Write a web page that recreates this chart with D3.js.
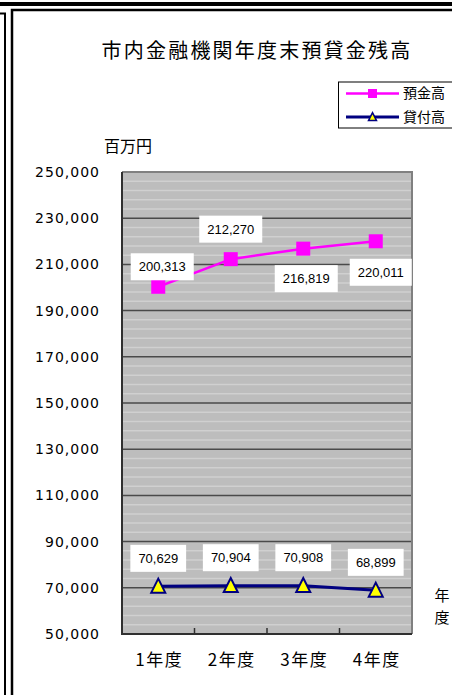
<!DOCTYPE html>
<html lang="ja">
<head>
<meta charset="UTF-8">
<title>市内金融機関年度末預貸金残高</title>
<script src="https://d3js.org/d3.v7.min.js"></script>
<style>
  body { margin: 0; background: #fff; }
  svg { display: block; }
  .jp { font-family: "Noto Sans CJK JP", "Noto Sans", sans-serif; fill: #000; }
  .num { font-family: "Liberation Sans", Arial, sans-serif; fill: #000; }
  .tick { font-family: "DejaVu Sans", sans-serif; fill: #000; }
</style>
</head>
<body>
<svg id="chart" width="452" height="695"></svg>
<script>
// データ
const years = ["1年度", "2年度", "3年度", "4年度"];
const deposits = [200313, 212270, 216819, 220011];   // 預金高
const loans = [70629, 70904, 70908, 68899];          // 貸付高
const yTicks = [50000, 70000, 90000, 110000, 130000, 150000, 170000, 190000, 210000, 230000, 250000];

// ラベルの位置 (点からのずれ)
const depositLabelShift = [[4, -20], [0, -30], [3, 30], [5, 31]];
const loanLabelShift = [[0, -28], [0, -28], [0, -28], [0, -28]];

const svg = d3.select("#chart");
const plot = { left: 122, top: 172, right: 412, bottom: 634 };

// 枠線
svg.append("rect").attr("x", 0).attr("y", 2).attr("width", 452).attr("height", 4).attr("fill", "#000");
svg.append("path").attr("d", "M0,13.5H5V695").attr("fill", "none").attr("stroke", "#000").attr("stroke-width", 2);
svg.append("path").attr("d", "M12,695V10H452").attr("fill", "none").attr("stroke", "#000").attr("stroke-width", 2.5);

// タイトル
svg.append("text").attr("class", "jp")
    .attr("x", 257).attr("y", 58)
    .attr("text-anchor", "middle")
    .attr("font-size", 20).attr("letter-spacing", 2.2)
    .text("市内金融機関年度末預貸金残高");

svg.append("text").attr("class", "jp")
    .attr("x", 104).attr("y", 152)
    .attr("font-size", 16)
    .text("百万円");

// スケール
const x = d3.scaleBand().domain(years).range([plot.left, plot.right]);
const y = d3.scaleLinear().domain([50000, 250000]).range([plot.bottom, plot.top]);

// 背景
svg.append("rect")
    .attr("x", plot.left).attr("y", plot.top)
    .attr("width", plot.right - plot.left).attr("height", plot.bottom - plot.top)
    .attr("fill", "#bdbdbd");

// 補助目盛線
svg.append("g").selectAll("line")
    .data(d3.range(54000, 250000, 4000).filter(v => (v - 50000) % 20000 !== 0))
    .join("line")
    .attr("x1", plot.left).attr("x2", plot.right)
    .attr("y1", d => y(d)).attr("y2", d => y(d))
    .attr("stroke", "#d0d0d0").attr("stroke-width", 1.5);

// 目盛線
svg.append("g").selectAll("line")
    .data(yTicks.slice(1, -1))
    .join("line")
    .attr("x1", plot.left).attr("x2", plot.right)
    .attr("y1", d => y(d)).attr("y2", d => y(d))
    .attr("stroke", "#4a4a4a").attr("stroke-width", 1.5);

// 枠
svg.append("path")
    .attr("d", `M${plot.left},${plot.top}H${plot.right}V${plot.bottom}`)
    .attr("fill", "none").attr("stroke", "#808080").attr("stroke-width", 2);
svg.append("path")
    .attr("d", `M${plot.left},${plot.top}V${plot.bottom}H${plot.right}`)
    .attr("fill", "none").attr("stroke", "#303030").attr("stroke-width", 2);

// x 軸の目盛
svg.append("g").selectAll("line")
    .data(years.slice(1))
    .join("line")
    .attr("x1", d => x(d)).attr("x2", d => x(d))
    .attr("y1", plot.bottom).attr("y2", plot.bottom - 6)
    .attr("stroke", "#303030").attr("stroke-width", 1.5);

// y 軸ラベル
svg.append("g").selectAll("text")
    .data(yTicks)
    .join("text")
    .attr("class", "tick")
    .attr("x", 100).attr("y", d => y(d))
    .attr("dy", "0.36em")
    .attr("text-anchor", "end")
    .attr("font-size", 14).attr("letter-spacing", 1)
    .text(d => d3.format(",")(d));

// x 軸ラベル
svg.append("g").selectAll("text")
    .data(years)
    .join("text")
    .attr("class", "jp")
    .attr("x", d => x(d) + x.bandwidth() / 2 + 1)
    .attr("y", 666)
    .attr("text-anchor", "middle")
    .attr("font-size", 17).attr("letter-spacing", 1.5)
    .text(d => d);

// 軸タイトル「年度」
svg.append("text").attr("class", "jp").attr("x", 442).attr("y", 601)
    .attr("text-anchor", "middle").attr("font-size", 15).text("年");
svg.append("text").attr("class", "jp").attr("x", 442).attr("y", 623)
    .attr("text-anchor", "middle").attr("font-size", 15).text("度");

const cx = d => x(d) + x.bandwidth() / 2;
const line = d3.line().x(d => cx(d[0])).y(d => y(d[1]));

// 預金高
svg.append("path")
    .datum(d3.zip(years, deposits))
    .attr("d", line)
    .attr("fill", "none").attr("stroke", "#ff00ff").attr("stroke-width", 2.5);

// 貸付高
svg.append("path")
    .datum(d3.zip(years, loans))
    .attr("d", line)
    .attr("fill", "none").attr("stroke", "#000080").attr("stroke-width", 3);

svg.append("g").selectAll("rect")
    .data(d3.zip(years, deposits))
    .join("rect")
    .attr("x", d => cx(d[0]) - 7).attr("y", d => y(d[1]) - 7)
    .attr("width", 14).attr("height", 14)
    .attr("fill", "#ff00ff");

const tri = (s) => `M0,${-s * 0.55}L${s / 2},${s * 0.45}L${-s / 2},${s * 0.45}Z`;
svg.append("g").selectAll("path")
    .data(d3.zip(years, loans))
    .join("path")
    .attr("transform", d => `translate(${cx(d[0])},${y(d[1])})`)
    .attr("d", tri(14))
    .attr("fill", "#ffff00").attr("stroke", "#000080").attr("stroke-width", 2);

// データラベル
function addLabels(values, shifts) {
    const g = svg.append("g");
    values.forEach((v, i) => {
        const px = cx(years[i]) + shifts[i][0];
        const py = y(v) + shifts[i][1];
        const lg = g.append("g").attr("transform", `translate(${px},${py})`);
        const box = lg.append("rect").attr("fill", "#fff");
        const t = lg.append("text")
            .attr("class", "num")
            .attr("text-anchor", "middle")
            .attr("dy", "0.36em")
            .attr("font-size", 13)
            .text(d3.format(",")(v));
        const w = t.node().getComputedTextLength() + 16;
        box.attr("x", -w / 2).attr("y", -13.5).attr("width", w).attr("height", 27);
    });
}
addLabels(deposits, depositLabelShift);
addLabels(loans, loanLabelShift);

// 凡例
svg.append("rect")
    .attr("x", 338.5).attr("y", 82).attr("width", 120).attr("height", 46)
    .attr("fill", "#fff").attr("stroke", "#000").attr("stroke-width", 1);
const legend = [
    { name: "預金高", color: "#ff00ff", width: 2.5, marker: "square", y: 93.5 },
    { name: "貸付高", color: "#000080", width: 3, marker: "triangle", y: 117 }
];
const lg = svg.append("g").selectAll("g").data(legend).join("g")
    .attr("transform", d => `translate(0,${d.y})`);
lg.append("line").attr("x1", 346).attr("x2", 399)
    .attr("stroke", d => d.color).attr("stroke-width", d => d.width);
lg.filter(d => d.marker === "square").append("rect")
    .attr("x", 368).attr("y", -4.5).attr("width", 9).attr("height", 9)
    .attr("fill", "#ff00ff");
lg.filter(d => d.marker === "triangle").append("path")
    .attr("transform", "translate(372.5,0)")
    .attr("d", tri(8))
    .attr("fill", "#ffff00").attr("stroke", "#000080").attr("stroke-width", 1.5);
lg.append("text").attr("class", "jp")
    .attr("x", 403).attr("dy", "0.35em")
    .attr("font-size", 14)
    .text(d => d.name);
</script>
</body>
</html>
